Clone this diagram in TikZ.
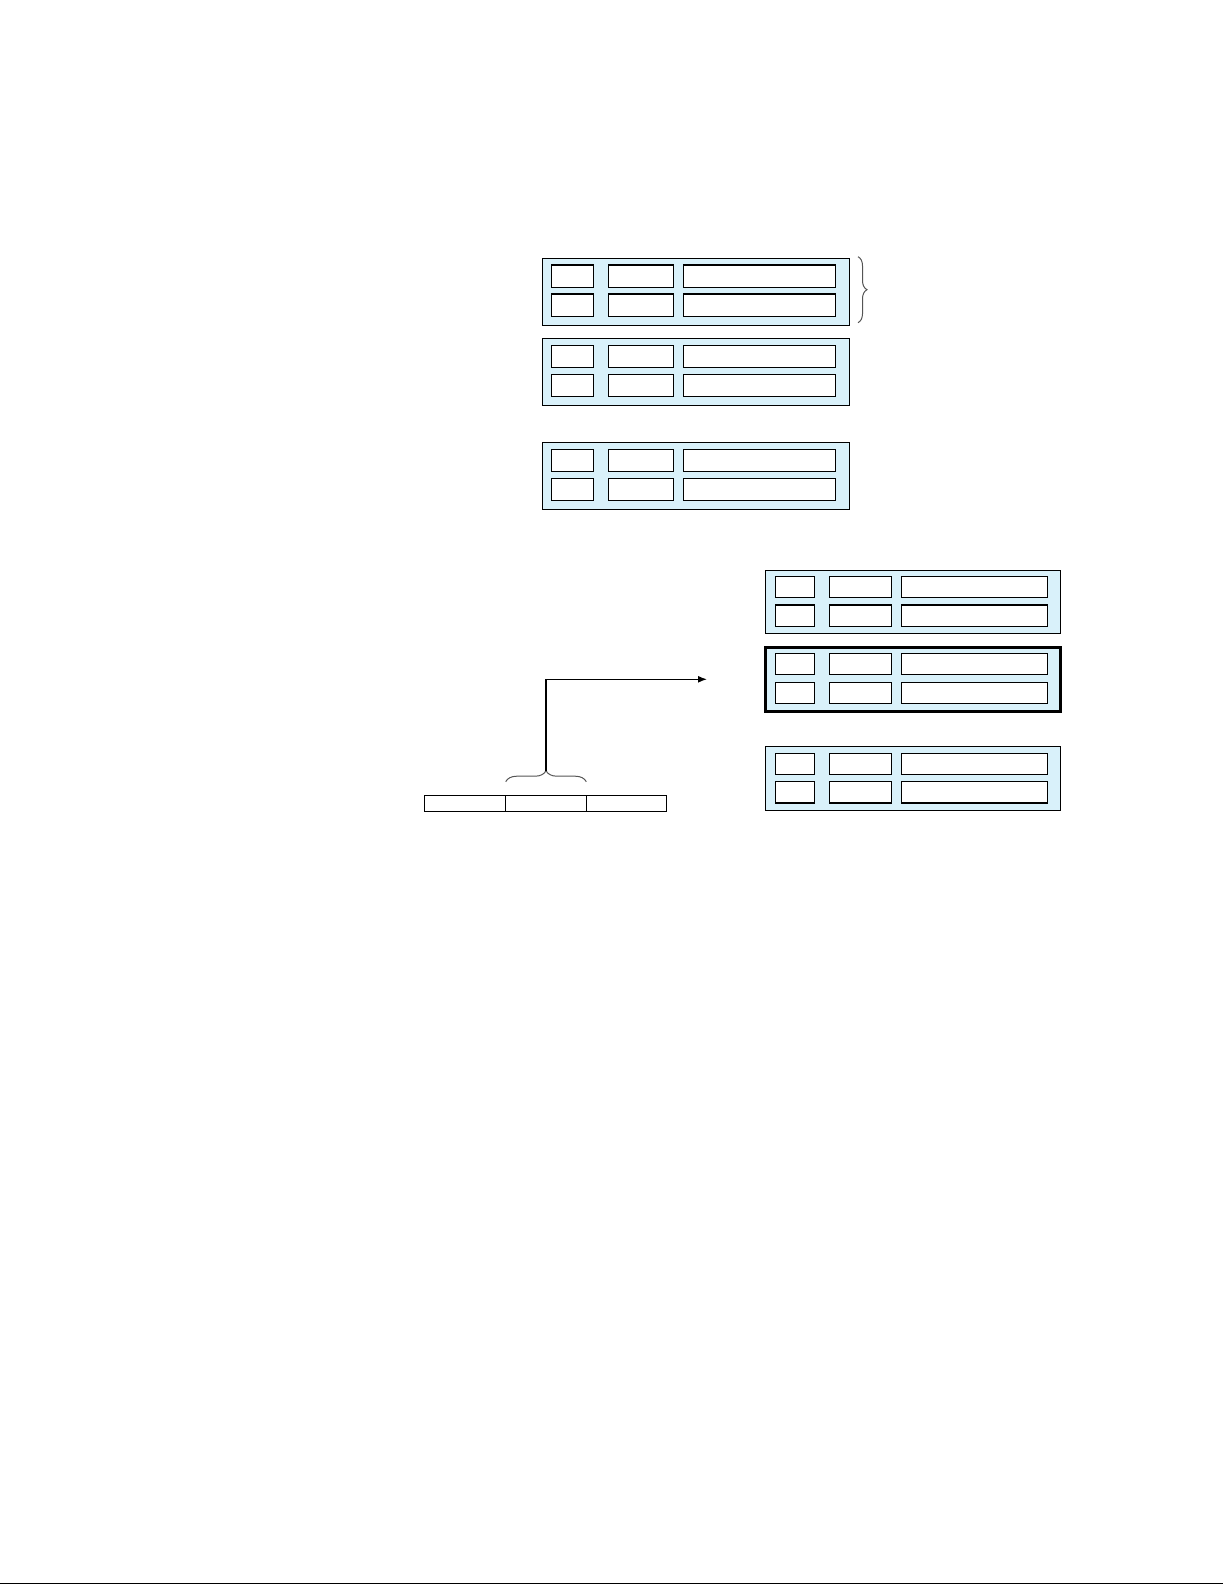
\documentclass[tikz,border=0pt]{standalone}
\usetikzlibrary{arrows.meta,decorations.pathreplacing}
\definecolor{boxblue}{RGB}{217,241,250}
\definecolor{bracegray}{RGB}{85,85,85}
\tikzset{
  outerbox/.style={draw=black,fill=boxblue,line width=1.3pt,inner sep=0pt,outer sep=0pt},
  thickbox/.style={outerbox,line width=2.8pt},
  cellbox/.style={draw=black,fill=white,line width=1.4pt,inner sep=0pt,outer sep=0pt},
  barcell/.style={draw=black,fill=white,line width=1.3pt,inner sep=0pt,outer sep=0pt},
  bracestyle/.style={draw=bracegray,line width=1pt,decorate},
  conn/.style={draw=black,line width=1.3pt,-{Latex[length=9pt,width=7pt]}},
}
\newcommand\rbox[6]{% style, name, x1, y1, x2, y2
  \node[#1, minimum width={#5-#3}, minimum height={#6-#4}] (#2) at ({(#3+#5)/2},{(#4+#6)/2}) {};}
\newcommand\topcols{551.3/593.3/a, 608.3/673.7/b, 683.3/835.3/c}
\newcommand\rightcols{775.3/814.7/a, 829.3/891.7/b, 901.3/1047.3/c}
\begin{document}
\begin{tikzpicture}[x=1pt,y=-1pt]
  \useasboundingbox (0,0) rectangle (1225,1585);
  % top stack
  \rbox{outerbox}{b1}{542.7}{258.3}{849.3}{325.3}
  \rbox{outerbox}{b2}{542.7}{338.3}{849.3}{405.3}
  \rbox{outerbox}{b3}{542.7}{442.7}{849.3}{509.3}
  \foreach \xa/\xb/\c in \topcols {
    \foreach \ya/\yb/\r in {265/287.3/1,294/316.3/2} {\rbox{cellbox}{b1\c\r}{\xa}{\ya}{\xb}{\yb}}
    \foreach \ya/\yb/\r in {345.3/367.3/1,374.3/396.3/2} {\rbox{cellbox}{b2\c\r}{\xa}{\ya}{\xb}{\yb}}
    \foreach \ya/\yb/\r in {449.3/471.3/1,478.3/500.3/2} {\rbox{cellbox}{b3\c\r}{\xa}{\ya}{\xb}{\yb}}
  }
  % right stack
  \rbox{outerbox}{ra}{765.3}{570.5}{1060.7}{633.5}
  \rbox{thickbox}{rb}{765.3}{647.3}{1060.7}{711.3}
  \rbox{outerbox}{rc}{765.3}{746.7}{1060.7}{810.5}
  \foreach \xa/\xb/\c in \rightcols {
    \foreach \ya/\yb/\r in {576.3/597.7/1,605/626.3/2} {\rbox{cellbox}{ra\c\r}{\xa}{\ya}{\xb}{\yb}}
    \foreach \ya/\yb/\r in {653.3/674.3/1,682.3/703.3/2} {\rbox{cellbox}{rb\c\r}{\xa}{\ya}{\xb}{\yb}}
    \foreach \ya/\yb/\r in {753.3/774.5/1,781.5/803/2} {\rbox{cellbox}{rc\c\r}{\xa}{\ya}{\xb}{\yb}}
  }
  % bar
  \rbox{barcell}{bar1}{424.3}{795.3}{505.7}{811.3}
  \rbox{barcell}{bar2}{505.7}{795.3}{586.3}{811.3}
  \rbox{barcell}{bar3}{586.3}{795.3}{666.7}{811.3}
  % braces
  \coordinate (tb1) at (858,256.7);
  \coordinate (tb2) at (858,322.7);
  \draw[bracestyle,decoration={brace,amplitude=9pt}] (tb1) -- (tb2);
  \coordinate (bb1) at (505.7,781.7);
  \coordinate (bb2) at (586.3,781.7);
  \draw[bracestyle,decoration={brace,amplitude=11pt}] (bb1) -- (bb2);
  % connector
  \coordinate (btip) at (546,770.7);
  \coordinate (aend) at (707,679.3);
  \draw[conn] (btip) |- (aend);
  % bottom rule
  \coordinate (r1) at (0,1583.5);
  \coordinate (r2) at (1223,1583.5);
  \draw[line width=1.5pt] (r1) -- (r2);
\end{tikzpicture}
\end{document}
